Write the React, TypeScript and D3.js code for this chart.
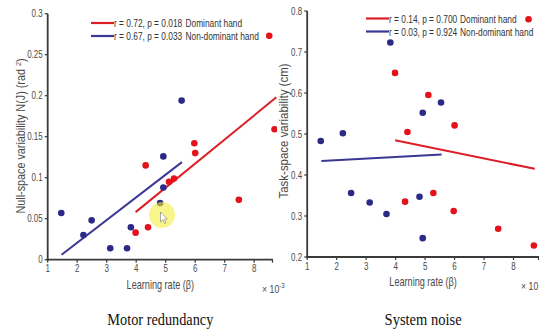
import React from "react";
import * as d3 from "d3";

// ---- data ----
const blueX = [1.46, 2.21, 2.49, 3.12, 3.69, 3.82, 4.81, 4.92, 4.92, 5.54];
const blueYLeft = [0.057, 0.03, 0.048, 0.014, 0.014, 0.0395, 0.069, 0.088, 0.126, 0.194];
const blueYRight = [0.483, 0.502, 0.356, 0.333, 0.305, 0.723, 0.347, 0.246, 0.552, 0.577];

const redX = [3.98, 4.32, 4.4, 5.11, 5.28, 5.97, 6.0, 7.48, 8.51, 8.69];
const redYLeft = [0.033, 0.115, 0.0395, 0.095, 0.099, 0.142, 0.13, 0.073, 0.273, 0.159];
const redYRight = [0.649, 0.335, 0.505, 0.595, 0.356, 0.312, 0.521, 0.269, 0.78, 0.228];

// fitted regression line endpoints [x, y]
const blueFitLeft: [number, number][] = [[1.47, 0.006], [5.55, 0.119]];
const redFitLeft: [number, number][] = [[3.98, 0.058], [8.75, 0.198]];
const blueFitRight: [number, number][] = [[1.48, 0.434], [5.56, 0.45]];
const redFitRight: [number, number][] = [[3.98, 0.485], [8.72, 0.415]];

const xTicks = [1, 2, 3, 4, 5, 6, 7, 8];
const yTicksLeft = [0, 0.05, 0.1, 0.15, 0.2, 0.25, 0.3];
const yTicksRight = [0.2, 0.3, 0.4, 0.5, 0.6, 0.7, 0.8];
const yTickLabelsLeft = ["0", "0.05", "0.1", "0.15", "0.2", "0.25", "0.3"];
const yTickLabelsRight = ["0.2", "0.3", "0.4", "0.5", "0.6", "0.7", "0.8"];

const legendLeft = ["r = 0.72, p = 0.018", "r = 0.67, p = 0.033"];
const legendRight = ["r = 0.14, p = 0.700", "r = 0.03, p = 0.924"];
const seriesNames = ["Dominant hand", "Non-dominant hand"];

const RED = "#e3121b";
const BLUE = "#2b2a86";
const RED_LINE = "#dc1f26";
const BLUE_LINE = "#3b3794";
const AXIS = "#3a3a3a";
const TXT = "#4a4a4a";
const SANS = "'Liberation Sans', Arial, sans-serif";
const SERIF = "'Liberation Serif', 'Times New Roman', serif";
const SQ = 0.76; // horizontal squeeze to mimic a narrow face

type NTextProps = {
  x: number;
  y: number;
  size: number;
  anchor?: "start" | "middle" | "end";
  fill?: string;
  children: React.ReactNode;
};

function NText({ x, y, size, anchor = "start", fill = TXT, children }: NTextProps) {
  return (
    <text
      transform={`translate(${x},${y}) scale(${SQ},1)`}
      textAnchor={anchor}
      fontSize={size}
      fontFamily={SANS}
      fill={fill}
    >
      {children}
    </text>
  );
}

type PanelProps = {
  x: d3.ScaleLinear<number, number>;
  y: d3.ScaleLinear<number, number>;
  xEnd: number;
  yTicks: number[];
  yTickLabels: string[];
  blueY: number[];
  redY: number[];
  blueFit: [number, number][];
  redFit: [number, number][];
  legend: string[];
  legendX: number;
  legendY: number;
  nameX: number;
  ylabel: React.ReactNode;
  ylabelX: number;
  ylabelY: number;
  ylabelLen: number;
  title: string;
  titleLen: number;
  clipId: string;
  clipRight: number;
  expX: number;
  showExp: boolean;
};

function Panel(p: PanelProps) {
  const { x, y } = p;
  const line = d3
    .line<[number, number]>()
    .x((d) => x(d[0]))
    .y((d) => y(d[1]));
  const [y0, y1] = y.range();
  const x0 = x.range()[0];
  const xMid = (x0 + p.xEnd) / 2;
  return (
    <g>
      <defs>
        <clipPath id={p.clipId}>
          <rect x={0} y={0} width={p.clipRight} height={331} />
        </clipPath>
      </defs>
      <g clipPath={`url(#${p.clipId})`}>
        {/* axes */}
        <line x1={x0} x2={x0} y1={y0 + 1} y2={y1} stroke={AXIS} strokeWidth={1.8} />
        <line x1={x0 - 1} x2={p.xEnd} y1={y0} y2={y0} stroke={AXIS} strokeWidth={1.8} />
        {p.yTicks.map((t, i) => (
          <g key={"yt" + i}>
            <line x1={x0 - 3} x2={x0} y1={y(t)} y2={y(t)} stroke={AXIS} strokeWidth={1.2} />
            <NText x={x0 - 5} y={y(t) + 3.5} size={10.5} anchor="end">
              {p.yTickLabels[i]}
            </NText>
          </g>
        ))}
        {xTicks.map((t) => (
          <g key={"xt" + t}>
            <line x1={x(t)} x2={x(t)} y1={y0} y2={y0 + 3} stroke={AXIS} strokeWidth={1.2} />
            <NText x={x(t)} y={y0 + 12.5} size={10.5} anchor="middle">
              {t}
            </NText>
          </g>
        ))}
        <line x1={p.xEnd - 0.5} x2={p.xEnd - 0.5} y1={y0} y2={y0 + 3} stroke={AXIS} strokeWidth={1.2} />
        {/* fit lines */}
        <path d={line(p.blueFit) || ""} stroke={BLUE_LINE} strokeWidth={2} fill="none" />
        <path d={line(p.redFit) || ""} stroke={RED_LINE} strokeWidth={2} fill="none" />
        {/* points */}
        {blueX.map((v, i) => (
          <circle key={"b" + i} cx={x(v)} cy={y(p.blueY[i])} r={3.3} fill={BLUE} />
        ))}
        {redX.map((v, i) => (
          <circle key={"r" + i} cx={x(v)} cy={y(p.redY[i])} r={3.3} fill={RED} />
        ))}
      </g>
      {/* legend */}
      <line x1={p.legendX} x2={p.legendX + 23} y1={p.legendY} y2={p.legendY} stroke={RED_LINE} strokeWidth={2.2} />
      <line x1={p.legendX} x2={p.legendX + 23} y1={p.legendY + 13} y2={p.legendY + 13} stroke={BLUE_LINE} strokeWidth={2.2} />
      <NText x={p.legendX + 23} y={p.legendY + 4} size={11} fill="#333">
        {p.legend[0]}
      </NText>
      <NText x={p.legendX + 23} y={p.legendY + 17} size={11} fill="#333">
        {p.legend[1]}
      </NText>
      <NText x={p.nameX} y={p.legendY + 4} size={11} fill="#333">
        {seriesNames[0]}
      </NText>
      <NText x={p.nameX} y={p.legendY + 17} size={11} fill="#333">
        {seriesNames[1]}
      </NText>
      {/* axis labels */}
      <text
        transform={`translate(${p.ylabelX},${p.ylabelY}) rotate(-90)`}
        textAnchor="middle"
        fontSize={12}
        fontFamily={SANS}
        fill={TXT}
        textLength={p.ylabelLen}
        lengthAdjust="spacingAndGlyphs"
      >
        {p.ylabel}
      </text>
      <NText x={xMid} y={y0 + 29} size={12} anchor="middle">
        {"Learning rate (β)"}
      </NText>
      <NText x={p.expX} y={y0 + 33} size={11.5}>
        {"× 10"}
        {p.showExp ? (
          <tspan dy={-5} fontSize={8}>
            {"-3"}
          </tspan>
        ) : null}
      </NText>
      <text
        x={xMid}
        y={325}
        textAnchor="middle"
        fontSize={17}
        fontFamily={SERIF}
        fill="#111"
        textLength={p.titleLen}
        lengthAdjust="spacingAndGlyphs"
      >
        {p.title}
      </text>
    </g>
  );
}

export default function App() {
  const xL = d3.scaleLinear().domain([1, 9]).range([47.7, 283.7]);
  const yL = d3.scaleLinear().domain([0, 0.3]).range([259.7, 13.7]);
  const xR = d3.scaleLinear().domain([1, 9]).range([307.2, 543]);
  const yR = d3.scaleLinear().domain([0.2, 0.8]).range([257, 11]);

  return (
    <svg
      width={539}
      height={331}
      style={{ position: "absolute", left: 0, top: 0, background: "#fff" }}
    >
      <rect width={539} height={331} fill="#fff" />
      <Panel
        x={xL}
        y={yL}
        xEnd={273}
        yTicks={yTicksLeft}
        yTickLabels={yTickLabelsLeft}
        blueY={blueYLeft}
        redY={redYLeft}
        blueFit={blueFitLeft}
        redFit={redFitLeft}
        legend={legendLeft}
        legendX={91}
        legendY={23}
        nameX={185.5}
        ylabel={
          <>
            {"Null-space variability N(J) (rad "}
            <tspan dy={-4} fontSize={8}>
              {"2"}
            </tspan>
            <tspan dy={4}>{")"}</tspan>
          </>
        }
        ylabelX={25}
        ylabelY={136}
        ylabelLen={155}
        title="Motor redundancy"
        titleLen={106}
        clipId="clipL"
        clipRight={277}
        expX={262}
        showExp={true}
      />
      {/* highlight overlay */}
      <circle cx={162} cy={215} r={13} fill="#f4ee3c" opacity={0.6} />
      <path
        d="M160.5,212 L160.5,222 L162.8,219.8 L164.6,223.5 L166,222.8 L164.3,219.2 L167.3,219 Z"
        fill="#fff"
        stroke="#888"
        strokeWidth={0.7}
      />
      <Panel
        x={xR}
        y={yR}
        xEnd={539}
        yTicks={yTicksRight}
        yTickLabels={yTickLabelsRight}
        blueY={blueYRight}
        redY={redYRight}
        blueFit={blueFitRight}
        redFit={redFitRight}
        legend={legendRight}
        legendX={366}
        legendY={18.5}
        nameX={460}
        ylabel={"Task-space variability (cm)"}
        ylabelX={288}
        ylabelY={131}
        ylabelLen={135}
        title="System noise"
        titleLen={77}
        clipId="clipR"
        clipRight={539}
        expX={521}
        showExp={false}
      />
    </svg>
  );
}
